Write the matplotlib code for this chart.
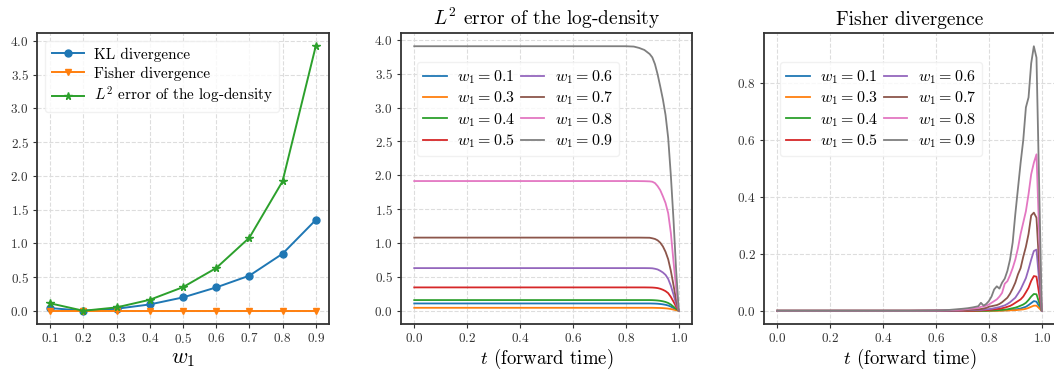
import matplotlib
matplotlib.use("Agg")
import matplotlib.pyplot as plt

plt.rcParams.update({
    "font.family": "serif",
    "font.serif": ["cmr10", "DejaVu Serif"],
    "mathtext.fontset": "cm",
    "axes.formatter.use_mathtext": True,
    "axes.unicode_minus": False,
})

# ---------------- Panel 1 data ----------------
w1 = [0.1, 0.2, 0.3, 0.4, 0.5, 0.6, 0.7, 0.8, 0.9]
kl_div = [0.04, 0.0, 0.03, 0.094, 0.198, 0.346, 0.52, 0.845, 1.345]
fisher_div = [0.0, 0.0, 0.0, 0.0, 0.0, 0.0, 0.0, 0.0, 0.0]
l2_err = [0.11, 0.0, 0.05, 0.163, 0.35, 0.633, 1.083, 1.918, 3.92]

# ---------------- Panel 2 data (L2 error vs t) ----------------
series_labels = ["0.1", "0.3", "0.4", "0.5", "0.6", "0.7", "0.8", "0.9"]
l2_t = [0.0, 0.2, 0.4, 0.6, 0.7, 0.8, 0.83, 0.85, 0.87, 0.89, 0.9, 0.91,
        0.92, 0.93, 0.94, 0.95, 0.96, 0.97, 0.98, 0.99, 1.0]
l2_w01 = [0.108, 0.108, 0.108, 0.108, 0.108, 0.108, 0.108, 0.108, 0.108, 0.108, 0.107, 0.106,
          0.104, 0.100, 0.095, 0.088, 0.078, 0.062, 0.040, 0.018, 0.0]
l2_w03 = [0.044, 0.044, 0.044, 0.044, 0.044, 0.044, 0.044, 0.044, 0.044, 0.044, 0.044, 0.043,
          0.042, 0.041, 0.039, 0.036, 0.032, 0.026, 0.017, 0.008, 0.0]
l2_w04 = [0.158, 0.158, 0.158, 0.158, 0.158, 0.158, 0.158, 0.158, 0.158, 0.158, 0.157, 0.155,
          0.152, 0.147, 0.140, 0.130, 0.115, 0.092, 0.060, 0.027, 0.0]
l2_w05 = [0.345, 0.345, 0.345, 0.345, 0.345, 0.345, 0.345, 0.345, 0.345, 0.344, 0.343, 0.340,
          0.335, 0.325, 0.310, 0.290, 0.260, 0.205, 0.135, 0.060, 0.0]
l2_w06 = [0.63, 0.63, 0.63, 0.63, 0.63, 0.63, 0.63, 0.63, 0.63, 0.629, 0.627, 0.62,
          0.61, 0.59, 0.565, 0.53, 0.47, 0.37, 0.24, 0.10, 0.0]
l2_w07 = [1.08, 1.08, 1.08, 1.08, 1.08, 1.08, 1.08, 1.08, 1.079, 1.078, 1.07, 1.06,
          1.04, 1.005, 0.95, 0.87, 0.76, 0.59, 0.38, 0.16, 0.0]
l2_w08 = [1.915, 1.915, 1.915, 1.915, 1.915, 1.915, 1.915, 1.914, 1.913, 1.91, 1.905, 1.885,
          1.84, 1.78, 1.69, 1.59, 1.44, 1.15, 0.73, 0.33, 0.0]
l2_w09 = [3.905, 3.905, 3.905, 3.905, 3.905, 3.905, 3.90, 3.88, 3.85, 3.79, 3.74, 3.64,
          3.49, 3.31, 3.12, 2.89, 2.55, 2.00, 1.35, 0.60, 0.0]

# ---------------- Panel 3 data (Fisher divergence vs t) ----------------
fi_t = [0.0, 0.5, 0.6, 0.65, 0.7, 0.72, 0.74, 0.76, 0.77, 0.78, 0.79, 0.80, 0.81, 0.82,
        0.83, 0.84, 0.85, 0.86, 0.87, 0.88, 0.89, 0.90, 0.91, 0.92, 0.93, 0.94, 0.95,
        0.96, 0.97, 0.98, 1.0]
fi_w01 = [0, 0, 0, 0, 0, 0, 0, 0, 0, 0, 0, 0, 0, 0, 0.0005, 0.001, 0.001, 0.0015, 0.002,
          0.003, 0.004, 0.005, 0.006, 0.008, 0.011, 0.014, 0.020, 0.027, 0.034, 0.032, 0.0]
fi_w03 = [0, 0, 0, 0, 0, 0, 0, 0, 0, 0, 0, 0, 0, 0, 0, 0, 0.0005, 0.001, 0.001,
          0.0015, 0.002, 0.002, 0.003, 0.004, 0.005, 0.007, 0.010, 0.014, 0.018, 0.018, 0.0]
fi_w04 = [0, 0, 0, 0, 0, 0, 0, 0, 0, 0, 0, 0.001, 0.001, 0.0015, 0.002, 0.0025, 0.003,
          0.004, 0.005, 0.007, 0.009, 0.011, 0.014, 0.018, 0.022, 0.028, 0.038, 0.050,
          0.059, 0.058, 0.0]
fi_w05 = [0, 0, 0, 0, 0, 0, 0, 0.001, 0.001, 0.002, 0.002, 0.003, 0.004, 0.005, 0.006,
          0.007, 0.009, 0.011, 0.014, 0.017, 0.022, 0.028, 0.034, 0.040, 0.050, 0.065,
          0.081, 0.105, 0.122, 0.120, 0.0]
fi_w06 = [0, 0, 0, 0, 0.001, 0.002, 0.002, 0.003, 0.003, 0.004, 0.005, 0.006, 0.007,
          0.009, 0.011, 0.013, 0.016, 0.019, 0.024, 0.030, 0.038, 0.046, 0.060, 0.075,
          0.095, 0.115, 0.146, 0.180, 0.210, 0.215, 0.0]
fi_w07 = [0, 0, 0.001, 0.001, 0.002, 0.003, 0.004, 0.005, 0.006, 0.008, 0.010, 0.014,
          0.016, 0.018, 0.020, 0.024, 0.030, 0.038, 0.046, 0.060, 0.078, 0.099, 0.128,
          0.150, 0.190, 0.225, 0.270, 0.335, 0.345, 0.327, 0.0]
fi_w08 = [0, 0, 0.001, 0.002, 0.004, 0.006, 0.008, 0.010, 0.014, 0.015, 0.018, 0.022,
          0.028, 0.034, 0.040, 0.050, 0.063, 0.095, 0.104, 0.125, 0.150, 0.180, 0.220,
          0.270, 0.310, 0.350, 0.410, 0.480, 0.520, 0.550, 0.0]
fi_w09 = [0, 0, 0.001, 0.003, 0.007, 0.009, 0.012, 0.016, 0.028, 0.018, 0.024, 0.034,
          0.050, 0.075, 0.086, 0.078, 0.099, 0.113, 0.140, 0.180, 0.240, 0.340, 0.430,
          0.520, 0.600, 0.715, 0.750, 0.870, 0.930, 0.890, 0.0]

colors = ["#1f77b4", "#ff7f0e", "#2ca02c", "#d62728", "#9467bd", "#8c564b", "#e377c2", "#7f7f7f"]

W, H = 1054, 373
fig = plt.figure(figsize=(W / 100, H / 100), dpi=100)

def px_axes(left, top, width, height):
    return fig.add_axes([left / W, 1 - (top + height) / H, width / W, height / H])

ax1 = px_axes(37, 33, 292, 291)
ax2 = px_axes(401, 33, 291, 291)
ax3 = px_axes(764, 33, 291, 291)

def style(ax):
    ax.grid(True, linestyle="--", color="#dddddd", linewidth=0.8)
    ax.set_axisbelow(True)
    for s in ax.spines.values():
        s.set_color("#333333")
        s.set_linewidth(1.3)
    ax.tick_params(labelsize=9.5, colors="#333333", labelcolor="#333333",
                   length=3, width=0.8, pad=3)

# Panel 1
ax1.plot(w1, kl_div, marker="o", color=colors[0], lw=1.4, ms=5, label="KL divergence")
ax1.plot(w1, fisher_div, marker="v", color=colors[1], lw=1.4, ms=5, label="Fisher divergence")
ax1.plot(w1, l2_err, marker="*", color=colors[2], lw=1.4, ms=5.5,
         label=r"$L^2$ error of the log-density")
ax1.set_xticks(w1)
ax1.set_yticks([0.0, 0.5, 1.0, 1.5, 2.0, 2.5, 3.0, 3.5, 4.0])
ax1.set_xlabel(r"$w_1$", fontsize=16, labelpad=2)
style(ax1)
leg1 = ax1.legend(loc="upper left", fontsize=11, frameon=True, handlelength=2.1,
                  labelspacing=0.3, borderaxespad=0.55, handletextpad=0.7)
leg1.get_frame().set_edgecolor("#eeeeee")

legend_kw = dict(loc="upper left", bbox_to_anchor=(0.055, 0.9), borderaxespad=0,
                 ncol=2, fontsize=11.5, columnspacing=0.4, handlelength=1.45,
                 handletextpad=0.65, labelspacing=0.22)

# Panel 2
l2_series = [l2_w01, l2_w03, l2_w04, l2_w05, l2_w06, l2_w07, l2_w08, l2_w09]
for lab, vals, c in zip(series_labels, l2_series, colors):
    ax2.plot(l2_t, vals, color=c, lw=1.3, label=r"$w_1 = %s$" % lab)
ax2.set_title(r"$L^2$ error of the log-density", fontsize=14, pad=6)
ax2.set_xlabel(r"$t$ (forward time)", fontsize=13.5, labelpad=1)
ax2.set_xticks([0.0, 0.2, 0.4, 0.6, 0.8, 1.0])
style(ax2)
leg2 = ax2.legend(**legend_kw)
leg2.get_frame().set_edgecolor("#eeeeee")

# Panel 3
fi_series = [fi_w01, fi_w03, fi_w04, fi_w05, fi_w06, fi_w07, fi_w08, fi_w09]
for lab, vals, c in zip(series_labels, fi_series, colors):
    ax3.plot(fi_t, vals, color=c, lw=1.3, label=r"$w_1 = %s$" % lab)
ax3.set_title("Fisher divergence", fontsize=14, pad=6)
ax3.set_xlabel(r"$t$ (forward time)", fontsize=13.5, labelpad=1)
ax3.set_xticks([0.0, 0.2, 0.4, 0.6, 0.8, 1.0])
ax3.set_yticks([0.0, 0.2, 0.4, 0.6, 0.8])
style(ax3)
leg3 = ax3.legend(**legend_kw)
leg3.get_frame().set_edgecolor("#eeeeee")

fig.savefig("out.png", dpi=100)
